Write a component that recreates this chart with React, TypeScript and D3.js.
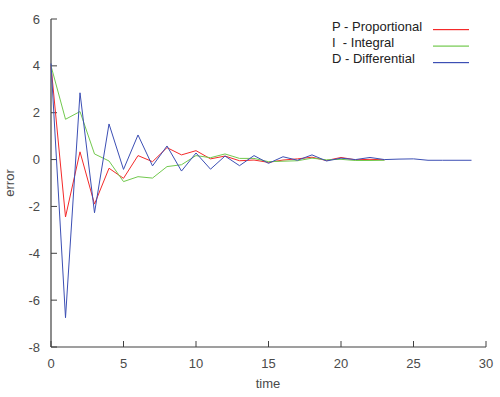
import React from "react";
import * as d3 from "d3";

const time = d3.range(0, 30);
const proportional = [4.0, -2.45, 0.33, -1.9, -0.37, -0.8, 0.17, -0.09, 0.51, 0.2, 0.38, 0.03, 0.15, -0.05, -0.02, -0.12, -0.02, 0.03, 0.1, -0.04, 0.09, -0.01, 0.01, -0.01];
const integral = [4.0, 1.72, 2.05, 0.24, -0.06, -0.94, -0.73, -0.79, -0.3, -0.22, 0.17, 0.08, 0.24, 0.05, 0.05, -0.09, -0.07, -0.05, 0.06, -0.01, 0.01, -0.04, -0.04, -0.03];
const differential = [4.1, -6.75, 2.85, -2.27, 1.52, -0.42, 1.05, -0.27, 0.58, -0.49, 0.28, -0.41, 0.15, -0.26, 0.17, -0.16, 0.12, -0.03, 0.2, -0.06, 0.06, 0.0, 0.09, 0.0, 0.02, 0.03, -0.03, -0.03, -0.03, -0.03];
const xTicks = [0, 5, 10, 15, 20, 25, 30];
const yTicks = [-8, -6, -4, -2, 0, 2, 4, 6];
const seriesNames = ["P - Proportional", "I  - Integral", "D - Differential"];
const seriesColors = ["#f42a2a", "#72c94e", "#3c4fb4"];

export default function App() {
  const W = 500, H = 397;
  const x = d3.scaleLinear().domain([0, 30]).range([51, 486]);
  const y = d3.scaleLinear().domain([-8, 6]).range([347, 19]);
  const line = d3.line<number>().x((_, i) => x(time[i])).y((d) => y(d));
  const series = [proportional, integral, differential];
  const font = "'Liberation Sans', Arial, sans-serif";
  const textColor = "#4a4a4a";
  const axisColor = "#404040";
  return (
    <svg width={W} height={H} style={{ position: "absolute", left: 0, top: 0, background: "#fff" }} fontFamily={font}>
      <line x1={x(0)} x2={x(30)} y1={y(-8)} y2={y(-8)} stroke={axisColor} strokeWidth={1.2} />
      <line x1={x(0)} x2={x(0)} y1={y(-8)} y2={y(6)} stroke={axisColor} strokeWidth={1.2} />
      {xTicks.map((t) => (
        <g key={"x" + t}>
          <line x1={x(t)} x2={x(t)} y1={y(-8)} y2={y(-8) - 6} stroke={axisColor} strokeWidth={1} />
          <text x={x(t)} y={368} textAnchor="middle" fontSize={13} fill={textColor}>{t}</text>
        </g>
      ))}
      {yTicks.map((t) => (
        <g key={"y" + t}>
          <line x1={x(0)} x2={x(0) + 6} y1={y(t)} y2={y(t)} stroke={axisColor} strokeWidth={1} />
          <text x={40} y={y(t) + 4.5} textAnchor="end" fontSize={13} fill={textColor}>{t}</text>
        </g>
      ))}
      <text x={268} y={388} textAnchor="middle" fontSize={13} fill={textColor}>time</text>
      <text transform={`translate(14,${(y(-8) + y(6)) / 2}) rotate(-90)`} textAnchor="middle" fontSize={13} fill={textColor}>error</text>
      {series.map((s, i) => (
        <path key={"s" + i} d={line(s) || ""} fill="none" stroke={seriesColors[i]} strokeWidth={1} />
      ))}
      {seriesNames.map((n, i) => (
        <text key={"t" + i} x={332} y={31 + i * 16} fontSize={13} fill="#222" style={{ whiteSpace: "pre" }}>{n}</text>
      ))}
      {seriesColors.map((c, i) => (
        <rect key={"r" + i} x={433} width={36} y={29 + i * 16.5} height={1.2} fill={c} />
      ))}
    </svg>
  );
}
